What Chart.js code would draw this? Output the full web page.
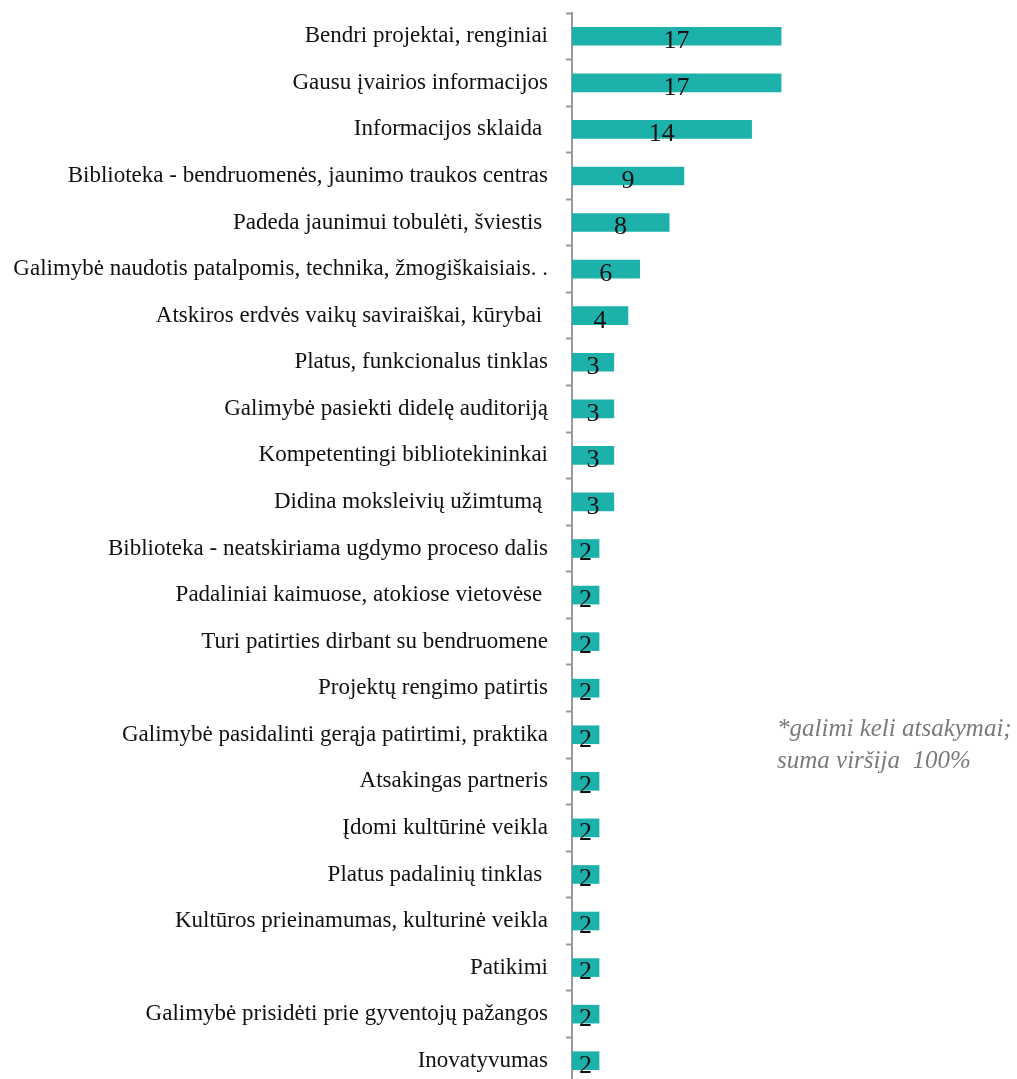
<!DOCTYPE html>
<html>
<head>
<meta charset="utf-8">
<script src="https://cdn.jsdelivr.net/npm/chart.js@4.4.1/dist/chart.umd.min.js"></script>
<style>
  html, body { margin: 0; padding: 0; background: #fff; overflow: hidden; }
  #wrap { position: relative; width: 1017px; height: 1084px; }
  #note {
    position: absolute; left: 777px; top: 712px;
    font-family: "Liberation Serif", serif; font-style: italic;
    font-size: 25px; line-height: 32px; color: #7a7a7a; white-space: nowrap;
  }
</style>
</head>
<body>
<div id="wrap">
  <canvas id="chart" width="1017" height="1084"></canvas>
  <div id="note">*galimi keli atsakymai;<br>suma viršija&nbsp; 100%</div>
</div>
<script>
  'use strict';

  // categories, top to bottom
  const categories = [
    'Bendri projektai, renginiai',
    'Gausu įvairios informacijos',
    'Informacijos sklaida ',
    'Biblioteka - bendruomenės, jaunimo traukos centras',
    'Padeda jaunimui tobulėti, šviestis ',
    'Galimybė naudotis patalpomis, technika, žmogiškaisiais. .',
    'Atskiros erdvės vaikų saviraiškai, kūrybai ',
    'Platus, funkcionalus tinklas',
    'Galimybė pasiekti didelę auditoriją',
    'Kompetentingi bibliotekininkai',
    'Didina moksleivių užimtumą ',
    'Biblioteka - neatskiriama ugdymo proceso dalis',
    'Padaliniai kaimuose, atokiose vietovėse ',
    'Turi patirties dirbant su bendruomene',
    'Projektų rengimo patirtis',
    'Galimybė pasidalinti gerąja patirtimi, praktika',
    'Atsakingas partneris',
    'Įdomi kultūrinė veikla',
    'Platus padalinių tinklas ',
    'Kultūros prieinamumas, kulturinė veikla',
    'Patikimi',
    'Galimybė prisidėti prie gyventojų pažangos',
    'Inovatyvumas'
  ];

  // numbers printed on the bars
  const answers = [17, 17, 14, 9, 8, 6, 4, 3, 3, 3, 3, 2, 2, 2, 2, 2, 2, 2, 2, 2, 2, 2, 2];

  // bar lengths as drawn in the picture (not quite proportional to the printed numbers)
  const barLengths = [17, 17, 14.6, 9.1, 7.9, 5.5, 4.55, 3.4, 3.4, 3.4, 3.4,
    2.2, 2.2, 2.2, 2.2, 2.2, 2.2, 2.2, 2.2, 2.2, 2.2, 2.2, 2.2];

  const barColor = '#1db1ab';
  const axisColor = '#999999';
  const serif = '"Liberation Serif", "Times New Roman", serif';

  const valueLabels = {
    id: 'valueLabels',
    afterDatasetsDraw(chart) {
      const ctx = chart.ctx;
      const meta = chart.getDatasetMeta(0);
      ctx.save();
      ctx.font = '26px ' + serif;
      ctx.fillStyle = '#111';
      ctx.textAlign = 'center';
      ctx.textBaseline = 'middle';
      meta.data.forEach((bar, i) => {
        const cx = (bar.x + bar.base) / 2;
        ctx.fillText(String(answers[i]), cx, bar.y + 5);
      });
      ctx.restore();
    }
  };

  new Chart(document.getElementById('chart').getContext('2d'), {
    type: 'bar',
    data: {
      labels: categories,
      datasets: [{
        data: barLengths,
        backgroundColor: barColor,
        borderWidth: 0,
        barThickness: 18
      }]
    },
    options: {
      indexAxis: 'y',
      responsive: false,
      animation: false,
      layout: { padding: { top: 13, bottom: 0, left: 0, right: 199 } },
      plugins: {
        legend: { display: false },
        tooltip: { enabled: false }
      },
      scales: {
        x: {
          display: false,
          min: 0,
          max: 20
        },
        y: {
          afterFit(scale) {
            scale.width = 572;
            scale.paddingTop = 0;
            scale.paddingBottom = 0;
          },
          border: { display: true, color: axisColor, width: 2 },
          grid: {
            display: true,
            drawOnChartArea: false,
            drawTicks: true,
            tickLength: 6,
            tickWidth: 2,
            tickColor: axisColor,
            offset: true
          },
          ticks: {
            color: '#111',
            padding: 18,
            autoSkip: false,
            font: { family: serif, size: 23 }
          }
        }
      }
    },
    plugins: [valueLabels]
  });
</script>
</body>
</html>
